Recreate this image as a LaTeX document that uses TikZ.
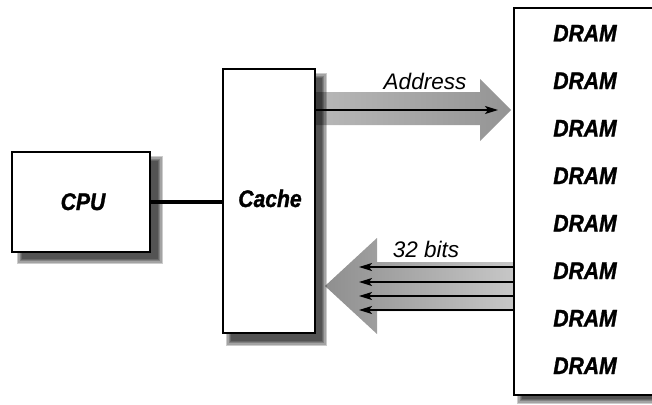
\documentclass[tikz,border=0pt]{standalone}
\usepackage{fontspec}
\usepackage{graphicx}
\setmainfont{Liberation Sans}
\newfontfamily\blackfont{Liberation Sans}[FakeBold=1.4]
\usetikzlibrary{arrows.meta}
\newcommand\softshadow[4]{%
  \foreach \k in {0,...,4}{%
    \fill[black,opacity=0.2] (#1-\k*1.2,#2-\k*1.2) rectangle (#3+\k*1.2,#4+\k*1.2);}}
\newcommand\heavy[1]{\scalebox{0.88}[1]{#1}}
\begin{document}
\begin{tikzpicture}[x=1pt,y=-1pt,
  box/.style={draw=black, line width=2.2pt, fill=white, rectangle, inner sep=0pt},
  bold label/.style={font=\fontsize{24}{25}\blackfont\bfseries\itshape, inner sep=0pt, anchor=base},
  thin label/.style={font=\fontsize{22.5}{24}\selectfont\itshape, inner sep=0pt, anchor=base},
  sig/.style={line width=1.5pt, -{Stealth[length=13pt,width=8pt,inset=3pt]}},
  link/.style={line width=4.5pt},
]
\useasboundingbox (0,0) rectangle (652,404);
\clip (0,0) rectangle (652,404);

% wide arrows
\shade[left color=black!28, right color=black!42]
  (316,92) -- (480,92) -- (480,79) -- (511,110) -- (480,141) -- (480,125) -- (316,125) -- cycle;
\shade[left color=black!44, right color=black!22]
  (514,262) -- (377,262) -- (377,238) -- (325,286) -- (377,334) -- (377,311) -- (514,311) -- cycle;

% shadows
\softshadow{22}{161}{158}{259}
\softshadow{231}{78}{322}{341}
\softshadow{522}{16}{670}{399}

% boxes
\node[box, minimum width=138pt, minimum height=100pt] (cpu) at (81,202) {};
\node[box, minimum width=92pt, minimum height=264pt] (cache) at (269,201) {};
\node[box, minimum width=166pt, minimum height=387pt] (dram) at (597,201.5) {};

% labels
\node[bold label] (cpul) at (83,210) {\heavy{CPU}};
\node[bold label] (cachel) at (270,207) {\heavy{Cache}};
\foreach \i/\y in {1/41.5,2/89,3/136.5,4/184,5/231.5,6/279,7/326.5,8/374}
  \node[bold label] (d\i) at (585,\y) {\heavy{DRAM}};
\node[thin label] (addr) at (425,89) {Address};
\node[thin label] (bits) at (426,257) {32 bits};

% connectors
\draw[link] (cpu.east) -- (cpu.east -| cache.west);
\coordinate (addrtip) at (498,110);
\draw[sig] (cache.east |- addrtip) -- (addrtip);
\foreach \y in {267,282,296,310}
  \draw[sig] (dram.west |- 0,\y) -- (359,\y);
\end{tikzpicture}
\end{document}
